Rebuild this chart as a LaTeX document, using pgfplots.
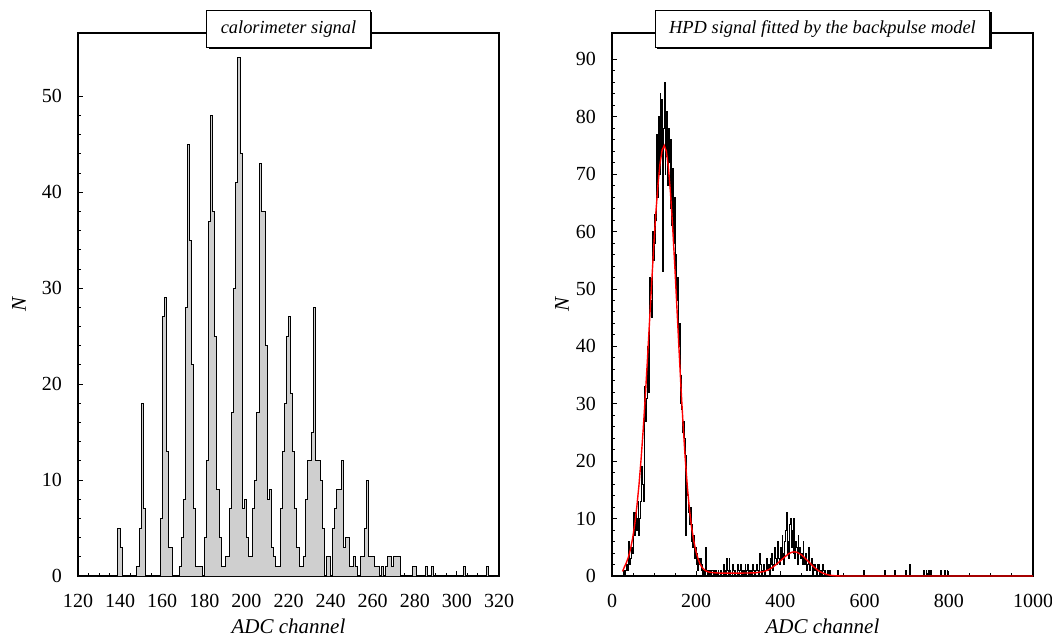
\documentclass[border=0pt]{standalone}
\usepackage{fontspec}
\setmainfont{Liberation Serif}
\usepackage{pgfplots}
\pgfplotsset{compat=1.18}
\usetikzlibrary{shadows}

\pgfplotsset{
  panel/.style={
    scale only axis,
    width=210.5pt, height=271.5pt,
    axis line style={line width=0.6pt},
    tick align=inside,
    tick pos=left,
    major tick length=2.5pt,
    minor tick length=1.4pt,
    tick style={line width=0.5pt, black},
    ymin=0,
    /pgf/number format/assume math mode=true,
    /pgf/number format/1000 sep={},
    tick label style={font=\fontsize{10}{12}\selectfont},
    yticklabel style={xshift=-4.5pt},
    xticklabel style={yshift=-5.5pt},
    xlabel={ADC channel},
    ylabel={N},
    label style={font=\fontsize{10.5}{12}\selectfont\itshape},
    xlabel style={at={(axis description cs:0.5,-0.092)}, anchor=center, inner sep=1pt},
    every axis title/.style={at={(axis description cs:0.5,1)}, anchor=center, yshift=2.2pt,
      font=\fontsize{9.2}{11}\selectfont\itshape, draw=black, line width=0.5pt,
      fill=white, inner xsep=7pt, minimum height=18.5pt,
      drop shadow={shadow xshift=0.9pt, shadow yshift=-0.9pt, opacity=1, fill=black}},
  },
}

\begin{document}
\begin{tikzpicture}
\useasboundingbox (-39pt,-31pt) rectangle (487pt,288pt);

% calorimeter signal
\begin{axis}[panel,
    xmin=120, xmax=320, ymax=56.6,
    xtick={120,140,...,320}, minor x tick num=3,
    ytick={0,10,...,50}, minor y tick num=4,
    title={calorimeter signal},
    ylabel style={at={(axis description cs:-0.14,0.5)}, anchor=center},
]
\addplot[const plot, fill=black!19, draw=black, line width=0.5pt] coordinates {
(120,0)(139,5)(140,3)(141,0)(148,1)(149,5)(150,18)(151,7)(152,0)
(159,6)(160,27)(161,29)(162,13)(163,3)(165,0)
(168,1)(169,4)(170,8)(171,28)(172,45)(173,35)(174,22)(175,7)(176,1)(179,0)
(180,4)(181,12)(182,37)(183,48)(184,38)(185,25)(186,9)(187,4)(188,1)(190,2)
(192,7)(193,17)(194,30)(195,41)(196,54)(197,44)(198,7)(199,8)(200,4)(201,2)
(203,7)(204,10)(205,17)(206,43)(207,38)(209,24)(210,8)(211,9)(212,3)(213,2)(214,1)
(216,7)(217,13)(218,18)(219,25)(220,27)(221,19)(222,13)(223,7)(224,3)(225,1)
(227,2)(228,8)(229,12)(231,15)(232,28)(233,12)(235,10)(236,5)(237,0)(238,2)(240,0)
(241,5)(242,7)(243,9)(245,12)(246,3)(247,4)(249,1)(251,2)(252,1)(253,0)
(254,2)(256,5)(257,10)(258,2)(261,1)(263,0)(264,1)(265,0)(266,1)(267,2)(269,1)(270,2)(273,0)
(279,1)(281,0)(285,1)(286,0)(288,1)(289,0)(303,1)(304,0)(314,1)(315,0)(320,0)
} \closedcycle;
\end{axis}

% HPD signal
\begin{axis}[panel, at={(267pt,0pt)},
    xmin=0, xmax=1000, ymax=94.6,
    xtick={0,200,...,1000}, minor x tick num=3,
    ytick={0,10,...,90}, minor y tick num=4,
    title={HPD signal fitted by the backpulse model},
    ylabel style={at={(axis description cs:-0.119,0.5)}, anchor=center},
]
\addplot[const plot, black, line width=0.5pt] coordinates {
(20,0)(22,0)(24,0)(26,0)(28,1)(30,0)(32,1)(34,2)(36,1)(38,2)(40,6)(42,2)(44,3)(46,5)(48,4)
(50,6)(52,11)(54,7)(56,11)(58,8)(60,10)(62,13)(64,7)(66,10)(68,13)(70,19)(72,16)(74,13)(76,22)(78,33)
(80,27)(82,31)(84,40)(86,32)(88,44)(90,52)(92,48)(94,45)(96,60)(98,55)(100,63)(102,58)(104,62)(106,77)(108,66)
(110,80)(112,70)(114,84)(116,74)(118,83)(120,53)(122,78)(124,86)(126,70)(128,73)(130,81)(132,68)(134,78)(136,72)(138,64)
(140,76)(142,61)(144,71)(146,58)(148,66)(150,51)(152,56)(154,48)(156,52)(158,40)(160,44)(162,30)(164,35)(166,29)(168,25)
(170,27)(172,24)(174,7)(176,21)(178,16)(180,14)(182,11)(184,9)(186,12)(188,6)(190,9)(192,5)(194,7)(196,3)(198,5)
(200,2)(202,4)(204,1)(206,3)(208,2)(210,3)(212,1)(214,2)(216,0)(218,1)(220,0)(222,5)(224,1)(226,0)(228,1)
(230,0)(232,1)(234,0)(236,1)(238,1)(240,0)(242,1)(244,0)(246,1)(248,0)(250,0)(252,1)(254,0)(256,0)(258,1)
(260,0)(262,0)(264,2)(266,0)(268,1)(270,0)(272,3)(274,1)(276,0)(278,3)(280,1)(282,0)(284,0)(286,2)(288,1)
(290,0)(292,1)(294,0)(296,0)(298,2)(300,1)(302,0)(304,1)(306,2)(308,0)(310,1)(312,0)(314,1)(316,2)(318,0)
(320,1)(322,2)(324,0)(326,1)(328,0)(330,1)(332,0)(334,2)(336,1)(338,0)(340,1)(342,1)(344,2)(346,1)(348,0)
(350,4)(352,2)(354,1)(356,0)(358,1)(360,2)(362,0)(364,1)(366,2)(368,3)(370,1)(372,2)(374,0)(376,3)(378,2)
(380,4)(382,1)(384,2)(386,5)(388,3)(390,2)(392,4)(394,6)(396,3)(398,2)(400,5)(402,3)(404,7)(406,4)(408,2)
(410,6)(412,8)(414,11)(416,4)(418,6)(420,3)(422,9)(424,10)(426,5)(428,8)(430,4)(432,10)(434,3)(436,6)(438,5)
(440,2)(442,7)(444,4)(446,5)(448,3)(450,4)(452,2)(454,6)(456,3)(458,2)(460,4)(462,1)(464,2)(466,5)(468,3)
(470,1)(472,2)(474,3)(476,0)(478,2)(480,1)(482,2)(484,1)(486,0)(488,2)(490,1)(492,2)(494,0)(496,1)(498,0)
(500,2)(502,1)(504,0)(506,1)(508,0)(510,0)(512,1)(514,0)(516,1)(518,0)(520,0)
(536,1)(538,0)(598,1)(600,0)(648,1)(650,0)(671,1)(673,0)(697,1)(699,0)(706,2)(708,0)
(740,1)(742,0)(746,1)(748,0)(752,1)(754,0)(756,1)(758,0)(780,1)(782,0)(790,1)(792,0)(796,1)(798,0)(1000,0)
};
\addplot[red, line width=0.7pt] coordinates {
(25,0.8)(29,1.5)(34,2.3)(39,3.3)(44,4.7)(49,6.6)(54,9.0)(59,12.1)(64,15.8)(69,20.3)
(74,25.4)(79,31.2)(84,37.5)(89,44.2)(94,50.8)(99,57.2)(104,63.1)(109,68.0)(114,71.8)(119,74.2)
(124,75.0)(129,74.0)(134,71.2)(139,66.7)(144,60.9)(149,54.2)(154,47.0)(159,39.7)(164,32.6)(169,26.2)
(174,20.4)(179,15.5)(184,11.6)(189,8.5)(194,6.2)(199,4.4)(204,3.1)(209,2.1)(214,1.5)(219,1.1)
(224,0.85)(232,0.65)(245,0.55)(260,0.5)(300,0.5)(340,0.55)(360,0.77)(370,1.03)(380,1.44)(390,2.01)
(400,2.65)(410,3.31)(420,3.91)(428,4.16)(434,4.21)(440,4.12)(450,3.69)(460,3.01)(470,2.25)(480,1.53)
(490,0.94)(500,0.53)(510,0.26)(520,0.11)(530,0.04)(545,0)(1000,0)
};
\end{axis}
\end{tikzpicture}
\end{document}
